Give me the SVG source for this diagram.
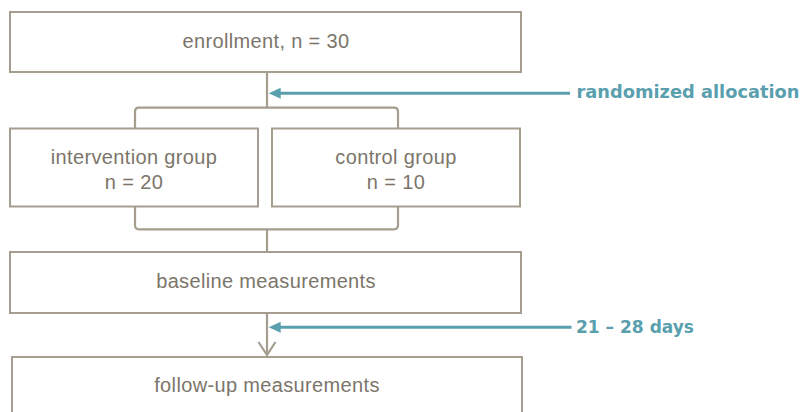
<svg xmlns="http://www.w3.org/2000/svg" width="803" height="412" viewBox="0 0 803 412">
<defs>
<style>
.box{fill:#ffffff;stroke:#a59d90;stroke-width:2}
.ln{fill:none;stroke:#a59d90;stroke-width:2.2}
.tl{fill:none;stroke:#5a9fae;stroke-width:3}
.t{font-family:"Liberation Sans",Arial,sans-serif;font-size:20px;fill:#7b756a;text-anchor:middle;letter-spacing:0.35px}
.b{font-family:"DejaVu Sans","Liberation Sans",sans-serif;font-size:17.6px;font-weight:bold;fill:#5a9fae}
</style>
</defs>
<rect width="803" height="412" fill="#ffffff"/>
<g id="connectors">
<path class="ln" d="M267,72 V107.7"/>
<path class="ln" d="M135,128 V111.7 Q135,107.7 139,107.7 H394 Q398,107.7 398,111.7 V128"/>
<path class="ln" d="M135,207 V225.3 Q135,229.3 139,229.3 H394 Q398,229.3 398,225.3 V207"/>
<path class="ln" d="M267,229.3 V252"/>
<path class="ln" d="M267,313 V355"/>
<path class="ln" d="M258.5,342 L267,355 L275.5,342" stroke-width="2.6"/>
<path class="tl" d="M570,93.3 H280"/>
<path d="M268.7,93.3 L280.7,87.8 L280.7,98.8 Z" fill="#5a9fae"/>
<path class="tl" d="M571.5,327.3 H280"/>
<path d="M268.7,327.3 L280.7,321.8 L280.7,332.8 Z" fill="#5a9fae"/>
</g>
<g id="enrollment">
<rect class="box" x="10" y="12" width="511" height="60"/>
<text class="t" x="266" y="47.7">enrollment, n = 30</text>
</g>
<g id="randomized">
<text class="b" x="576.5" y="98" textLength="223" lengthAdjust="spacingAndGlyphs">randomized allocation</text>
</g>
<g id="intervention">
<rect class="box" x="10" y="128.5" width="248" height="78"/>
<text class="t" x="134" y="163.5">intervention group</text>
<text class="t" x="134" y="189">n = 20</text>
</g>
<g id="control">
<rect class="box" x="272" y="128.5" width="248" height="78"/>
<text class="t" x="396" y="163.5">control group</text>
<text class="t" x="396" y="189">n = 10</text>
</g>
<g id="baseline">
<rect class="box" x="10" y="252" width="511" height="61"/>
<text class="t" x="266" y="287.7">baseline measurements</text>
</g>
<g id="days">
<text class="b" x="576" y="333" textLength="118" lengthAdjust="spacingAndGlyphs">21 – 28 days</text>
</g>
<g id="followup">
<rect class="box" x="12" y="357" width="510" height="70"/>
<text class="t" x="267" y="391.5">follow-up measurements</text>
</g>
</svg>
